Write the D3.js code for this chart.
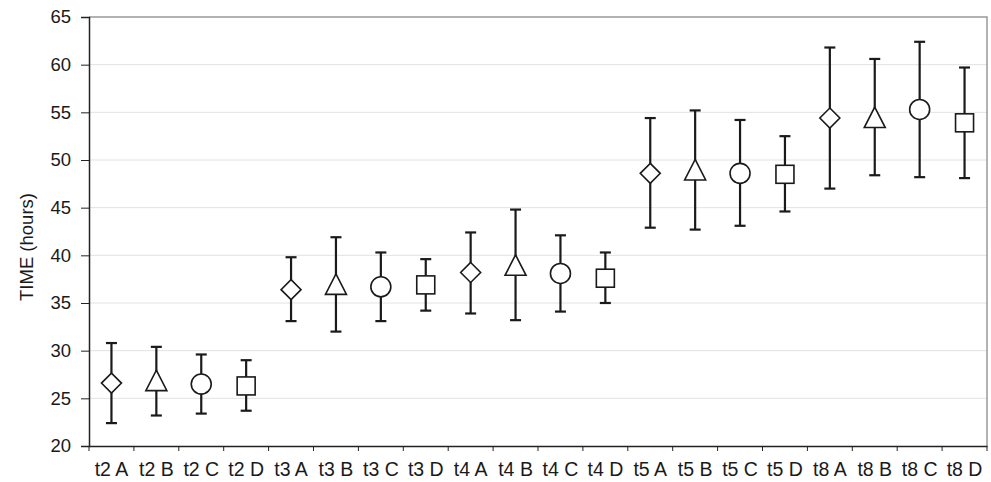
<!DOCTYPE html>
<html><head><meta charset="utf-8">
<script src="https://cdn.jsdelivr.net/npm/d3@7"></script>
<style>body{margin:0;background:#fff}svg{display:block}</style>
</head><body>
<script>
const categories = ["t2 A","t2 B","t2 C","t2 D","t3 A","t3 B","t3 C","t3 D","t4 A","t4 B","t4 C","t4 D","t5 A","t5 B","t5 C","t5 D","t8 A","t8 B","t8 C","t8 D"];
const means = [26.6,26.8,26.5,26.3, 36.4,36.9,36.7,36.9, 38.2,38.9,38.1,37.6, 48.6,48.9,48.6,48.5, 54.4,54.4,55.3,53.9];
const upper = [30.8,30.4,29.6,29.0, 39.8,41.9,40.3,39.6, 42.4,44.8,42.1,40.3, 54.4,55.2,54.2,52.5, 61.8,60.6,62.4,59.7];
const lower = [22.4,23.2,23.4,23.7, 33.1,32.0,33.1,34.2, 33.9,33.2,34.1,35.0, 42.9,42.7,43.1,44.6, 47.0,48.4,48.2,48.1];
const shapes = ["diamond","triangle","circle","square"];
const yTicks = [20,25,30,35,40,45,50,55,60,65];
const yTitle = "TIME (hours)";

const W = 991, H = 482;
const m = {left: 89, right: 4, top: 17, bottom: 36};
const svg = d3.select("body").append("svg").attr("width", W).attr("height", H);
const x = d3.scaleBand().domain(categories).range([m.left, W - m.right]).padding(0);
const y = d3.scaleLinear().domain([20, 65]).range([H - m.bottom, m.top]);
const font = "Liberation Sans, Arial, sans-serif";

// gridlines
svg.append("g").selectAll("line").data(yTicks.filter(t => t > 20 && t < 65)).join("line")
  .attr("x1", m.left).attr("x2", W - m.right)
  .attr("y1", d => y(d)).attr("y2", d => y(d))
  .attr("stroke", "#e2e2e2").attr("stroke-width", 1);

// top & right frame
svg.append("path")
  .attr("d", `M${m.left},${y(65)}H${W - m.right}V${y(20)}`)
  .attr("fill", "none").attr("stroke", "#999").attr("stroke-width", 1.5);

// y axis
const yAxis = svg.append("g").attr("transform", `translate(${m.left},0)`)
  .call(d3.axisLeft(y).tickValues(yTicks).tickSize(8).tickPadding(10));
yAxis.attr("font-family", font).attr("font-size", 18.5);
yAxis.select(".domain").attr("stroke", "#222").attr("stroke-width", 1.5);
yAxis.selectAll(".tick line").attr("stroke", "#222");
yAxis.selectAll("text").attr("fill", "#1a1a1a");

// x axis
const xAxis = svg.append("g").attr("transform", `translate(0,${y(20)})`)
  .call(d3.axisBottom(x).tickSize(0).tickPadding(16.5));
xAxis.attr("font-family", font).attr("font-size", 19.5);
xAxis.select(".domain").attr("stroke", "#222").attr("stroke-width", 1.5);
xAxis.selectAll("text").attr("fill", "#1a1a1a");
// x separators
svg.append("g").selectAll("line").data(d3.range(categories.length + 1)).join("line")
  .attr("x1", i => m.left + i * x.bandwidth()).attr("x2", i => m.left + i * x.bandwidth())
  .attr("y1", y(20)).attr("y2", y(20) + 5)
  .attr("stroke", "#222").attr("stroke-width", 1);

// y title
svg.append("text").attr("transform", `translate(33,247) rotate(-90)`)
  .attr("text-anchor", "middle").attr("font-family", font).attr("font-size", 18.5).attr("fill", "#1a1a1a")
  .text(yTitle);

// error bars
const g = svg.append("g");
categories.forEach((c, i) => {
  const cx = x(c) + x.bandwidth() / 2;
  const gg = g.append("g");
  gg.append("line").attr("x1", cx).attr("x2", cx).attr("y1", y(upper[i])).attr("y2", y(lower[i]))
    .attr("stroke", "#1a1a1a").attr("stroke-width", 2.2);
  [upper[i], lower[i]].forEach(v => {
    gg.append("line").attr("x1", cx - 5.5).attr("x2", cx + 5.5).attr("y1", y(v)).attr("y2", y(v))
      .attr("stroke", "#1a1a1a").attr("stroke-width", 2.2);
  });
  const cy = y(means[i]);
  const s = shapes[i % 4];
  let p;
  if (s === "diamond") p = gg.append("path").attr("d", `M${cx},${cy-10}L${cx+10},${cy}L${cx},${cy+10}L${cx-10},${cy}Z`);
  else if (s === "triangle") p = gg.append("path").attr("d", `M${cx},${cy-11}L${cx+10.5},${cy+9.5}L${cx-10.5},${cy+9.5}Z`);
  else if (s === "circle") p = gg.append("circle").attr("cx", cx).attr("cy", cy).attr("r", 10);
  else p = gg.append("rect").attr("x", cx - 9).attr("y", cy - 9).attr("width", 18).attr("height", 18);
  p.attr("fill", "#fff").attr("stroke", "#1a1a1a").attr("stroke-width", 1.6);
});
</script>
</body></html>
